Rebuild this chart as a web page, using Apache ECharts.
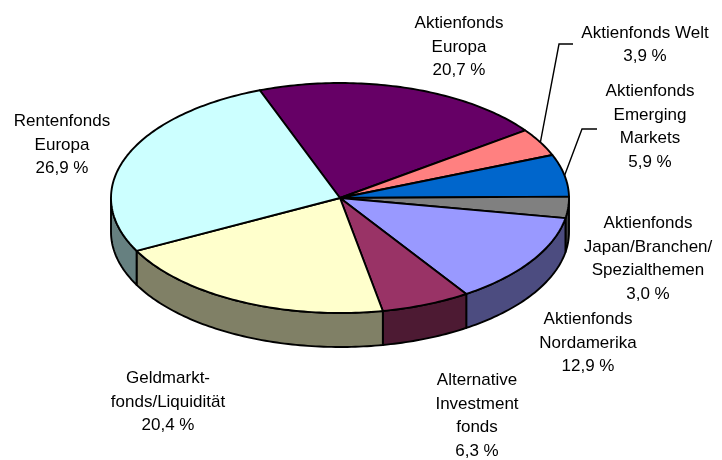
<!DOCTYPE html>
<html>
<head>
<meta charset="utf-8">
<script src="https://cdn.jsdelivr.net/npm/echarts@6/dist/echarts.min.js"></script>
<style>
  html, body { margin: 0; padding: 0; background: #fff; }
  #chart { width: 722px; height: 460px; }
</style>
</head>
<body>
<div id="chart"></div>
<script>
// Fund allocation, in percent of the portfolio (clockwise from the top)
const names = [
  'Aktienfonds\nEuropa',
  'Aktienfonds Welt',
  'Aktienfonds\nEmerging\nMarkets',
  'Aktienfonds\nJapan/Branchen/\nSpezialthemen',
  'Aktienfonds\nNordamerika',
  'Alternative\nInvestment\nfonds',
  'Geldmarkt-\nfonds/Liquidität',
  'Rentenfonds\nEuropa'
];
const shares = [20.7, 3.9, 5.9, 3.0, 12.9, 6.3, 20.4, 26.9];

// Face colours and the darker tones of the outer wall
const topColors  = ['#660066', '#FF8080', '#0066CC', '#808080', '#9999FF', '#993366', '#FFFFCC', '#CCFFFF'];
const sideColors = ['#330033', '#804040', '#003366', '#404040', '#4C4C80', '#4D1A33', '#808066', '#668080'];

// Disc geometry (tilted pie seen from above)
const disc = { cx: 340, cy: 198, rx: 229, ry: 115, depth: 34, startAngle: 110.5 };

// Label block centres and optional leader-line elbows
const labelPos = [[459, 47], [645, 45], [650, 127], [648, 259], [588, 343], [477, 416], [168, 402], [62, 145]];
const leaderElbow = [null, [[573, 44], [559, 44]], [[597, 129], [582, 129]], null, null, null, null, null];

const total = shares.reduce((a, b) => a + b, 0);
const startOf = [];
shares.reduce((acc, v, i) => { startOf[i] = acc; return acc + v; }, 0);

function angleAt(cum) { return disc.startAngle - cum / total * 360; }
function pt(deg, dy) {
  const r = deg * Math.PI / 180;
  return [disc.cx + disc.rx * Math.cos(r), disc.cy - disc.ry * Math.sin(r) + (dy || 0)];
}
function arc(from, to, dy) {
  const pts = [];
  const n = Math.max(2, Math.ceil(Math.abs(from - to)));
  for (let k = 0; k <= n; k++) pts.push(pt(from + (to - from) * k / n, dy));
  return pts;
}
function fmt(v) { return v.toFixed(1).replace('.', ',') + ' %'; }

const stroke = { stroke: '#000', lineWidth: 1.9, lineJoin: 'round' };

function renderWall(params, api) {
  const i = params.dataIndex;
  const a0 = angleAt(startOf[i]);
  const a1 = angleAt(startOf[i] + api.value(0));
  // only the front half of the rim (angles between -180 and 0) faces the viewer
  const hi = Math.min(a0, 0), lo = Math.max(a1, -180);
  if (hi <= lo) return { type: 'group', children: [] };
  const points = arc(hi, lo, 0).concat(arc(lo, hi, disc.depth));
  return {
    type: 'polygon',
    shape: { points },
    style: Object.assign({ fill: sideColors[i] }, stroke)
  };
}

function renderTop(params, api) {
  const i = params.dataIndex;
  const v = api.value(0);
  const a0 = angleAt(startOf[i]);
  const a1 = angleAt(startOf[i] + v);
  const points = [[disc.cx, disc.cy]].concat(arc(a0, a1, 0));
  const children = [{
    type: 'polygon',
    shape: { points },
    style: Object.assign({ fill: topColors[i] }, stroke)
  }];
  if (leaderElbow[i]) {
    const tip = pt((a0 + a1) / 2, 0);
    children.push({
      type: 'polyline',
      shape: { points: leaderElbow[i].concat([tip]) },
      style: { stroke: '#000', lineWidth: 1.4, fill: null },
      z2: 5
    });
  }
  children.push({
    type: 'text',
    x: labelPos[i][0],
    y: labelPos[i][1],
    style: {
      text: names[i] + '\n' + fmt(v),
      align: 'center',
      verticalAlign: 'middle',
      font: '17px "Liberation Sans", Arial, sans-serif',
      lineHeight: 23.5,
      fill: '#000'
    },
    z2: 10
  });
  return { type: 'group', children };
}

const chart = echarts.init(document.getElementById('chart'), null, { renderer: 'canvas' });
chart.setOption({
  animation: false,
  backgroundColor: '#fff',
  series: [
    { type: 'custom', coordinateSystem: 'none', z: 1, silent: true, renderItem: renderWall, data: shares.map(v => [v]) },
    { type: 'custom', coordinateSystem: 'none', z: 2, silent: true, renderItem: renderTop, data: shares.map(v => [v]) }
  ]
});
</script>
</body>
</html>
